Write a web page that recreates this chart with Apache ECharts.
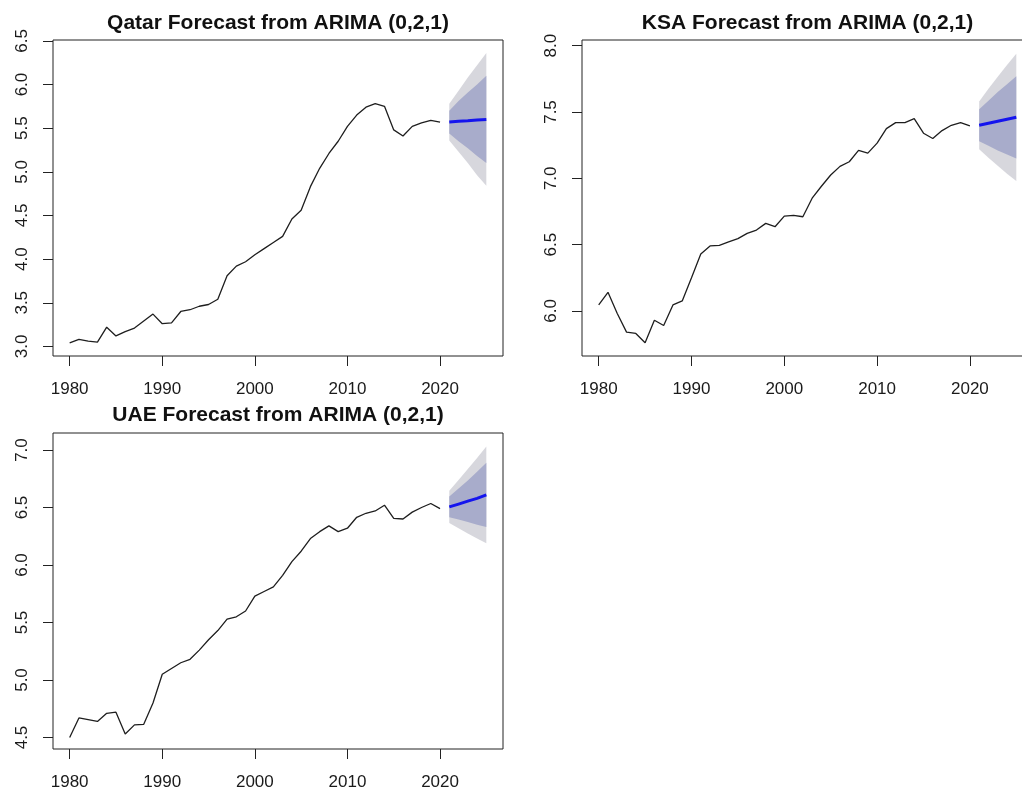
<!DOCTYPE html>
<html><head><meta charset="utf-8">
<script src="https://cdn.jsdelivr.net/npm/echarts@6/dist/echarts.min.js"></script>
<style>html,body{margin:0;padding:0;background:#fff}#c{width:1022px;height:792px}</style>
</head><body><div id="c"></div>
<script>
// ---- data ----
const years = [1980,1981,1982,1983,1984,1985,1986,1987,1988,1989,1990,1991,1992,1993,1994,1995,1996,1997,1998,1999,2000,2001,2002,2003,2004,2005,2006,2007,2008,2009,2010,2011,2012,2013,2014,2015,2016,2017,2018,2019,2020];
const forecastYears = [2021,2022,2023,2024,2025];
const xTickYears = [1980,1990,2000,2010,2020];

const qatarTitle = "Qatar Forecast from ARIMA (0,2,1)";
const qatarValues = [3.04,3.08,3.06,3.05,3.22,3.12,3.17,3.21,3.29,3.37,3.26,3.27,3.40,3.42,3.46,3.48,3.54,3.81,3.92,3.97,4.05,4.12,4.19,4.26,4.46,4.56,4.83,5.04,5.21,5.35,5.52,5.65,5.74,5.78,5.75,5.48,5.41,5.52,5.56,5.59,5.57];
const qatarMean = [5.570,5.578,5.585,5.593,5.600];
const qatarLo80 = [5.44,5.35,5.27,5.18,5.10];
const qatarHi80 = [5.70,5.81,5.91,6.00,6.10];
const qatarLo95 = [5.36,5.23,5.10,4.96,4.84];
const qatarHi95 = [5.78,5.93,6.08,6.22,6.36];
const qatarYTicks = [3.0,3.5,4.0,4.5,5.0,5.5,6.0,6.5];

const ksaTitle = "KSA Forecast from ARIMA (0,2,1)";
const ksaValues = [6.045,6.14,5.98,5.84,5.83,5.76,5.93,5.89,6.045,6.075,6.25,6.43,6.49,6.495,6.52,6.545,6.585,6.61,6.66,6.635,6.715,6.72,6.71,6.85,6.94,7.025,7.09,7.125,7.21,7.19,7.265,7.375,7.42,7.42,7.45,7.34,7.30,7.36,7.40,7.42,7.395];
const ksaMean = [7.400,7.415,7.430,7.445,7.460];
const ksaLo80 = [7.28,7.245,7.21,7.18,7.15];
const ksaHi80 = [7.52,7.585,7.65,7.71,7.77];
const ksaLo95 = [7.22,7.155,7.095,7.035,6.98];
const ksaHi95 = [7.58,7.675,7.765,7.855,7.94];
const ksaYTicks = [6.0,6.5,7.0,7.5,8.0];

const uaeTitle = "UAE Forecast from ARIMA (0,2,1)";
const uaeValues = [4.50,4.67,4.655,4.64,4.71,4.72,4.53,4.61,4.615,4.80,5.05,5.10,5.15,5.18,5.26,5.35,5.43,5.53,5.55,5.60,5.73,5.77,5.81,5.91,6.03,6.12,6.23,6.29,6.34,6.29,6.32,6.415,6.45,6.47,6.52,6.405,6.40,6.46,6.50,6.535,6.49];
const uaeMean = [6.505,6.53,6.555,6.58,6.61];
const uaeLo80 = [6.415,6.395,6.375,6.35,6.33];
const uaeHi80 = [6.595,6.665,6.735,6.81,6.89];
const uaeLo95 = [6.365,6.32,6.275,6.23,6.19];
const uaeHi95 = [6.645,6.74,6.835,6.93,7.03];
const uaeYTicks = [4.5,5.0,5.5,6.0,6.5,7.0];

// ---- layout ----
const panels = [
  {title:qatarTitle, values:qatarValues, mean:qatarMean, lo80:qatarLo80, hi80:qatarHi80, lo95:qatarLo95, hi95:qatarHi95, yTicks:qatarYTicks, yMin:2.89, yMax:6.51, left:53, top:40, width:450, height:316, titleY:23},
  {title:ksaTitle, values:ksaValues, mean:ksaMean, lo80:ksaLo80, hi80:ksaHi80, lo95:ksaLo95, hi95:ksaHi95, yTicks:ksaYTicks, yMin:5.66, yMax:8.043, left:582, top:40, width:451, height:316, titleY:23},
  {title:uaeTitle, values:uaeValues, mean:uaeMean, lo80:uaeLo80, hi80:uaeHi80, lo95:uaeLo95, hi95:uaeHi95, yTicks:uaeYTicks, yMin:4.40, yMax:7.148, left:53, top:433, width:450, height:316, titleY:415}
];
const FONT = '"Liberation Sans", Arial, Helvetica, sans-serif';
const X_MIN = 1978.2, X_MAX = 2026.8;
const COL95 = '#D7D7DD', COL80 = '#A8ACCB', COLFC = '#1414EE', COLLINE = '#1e1e1e';

const grid = [], xAxis = [], yAxis = [], series = [], graphic = [];
function bandSeries(idx, lo, hi, color) {
  return {
    type:'custom', xAxisIndex:idx, yAxisIndex:idx, silent:true, z:1,
    data:[[forecastYears[0], lo[0]]],
    renderItem:function(params, api){
      const pts = [];
      for (let i=0;i<forecastYears.length;i++) pts.push(api.coord([forecastYears[i], hi[i]]));
      for (let i=forecastYears.length-1;i>=0;i--) pts.push(api.coord([forecastYears[i], lo[i]]));
      return {type:'polygon', shape:{points:pts}, style:{fill:color, stroke:null}};
    }
  };
}
panels.forEach((p, i) => {
  grid.push({left:p.left, top:p.top, width:p.width, height:p.height, show:true, borderColor:'#222', borderWidth:1, backgroundColor:'transparent', containLabel:false, outerBoundsMode:'none'});
  xAxis.push({
    type:'value', gridIndex:i, min:X_MIN, max:X_MAX,
    splitLine:{show:false}, axisLine:{show:false},
    axisTick:{show:true, length:10, customValues:xTickYears, lineStyle:{color:'#222', width:1}},
    axisLabel:{show:true, customValues:xTickYears, margin:25, fontSize:17, fontFamily:FONT, color:'#1a1a1a', formatter:v=>String(Math.round(v))}
  });
  yAxis.push({
    type:'value', gridIndex:i, min:p.yMin, max:p.yMax,
    splitLine:{show:false}, axisLine:{show:false},
    axisTick:{show:true, length:10, customValues:p.yTicks, lineStyle:{color:'#222', width:1}},
    axisLabel:{show:true, customValues:p.yTicks, rotate:90, margin:22, fontSize:17, fontFamily:FONT, color:'#1a1a1a', formatter:v=>v.toFixed(1)}
  });
  series.push(bandSeries(i, p.lo95, p.hi95, COL95));
  series.push(bandSeries(i, p.lo80, p.hi80, COL80));
  series.push({type:'line', xAxisIndex:i, yAxisIndex:i, showSymbol:false, silent:true, z:3,
    data:years.map((y,k)=>[y, p.values[k]]), lineStyle:{color:COLLINE, width:1.3}});
  series.push({type:'line', xAxisIndex:i, yAxisIndex:i, showSymbol:false, silent:true, z:4,
    data:forecastYears.map((y,k)=>[y, p.mean[k]]), lineStyle:{color:COLFC, width:3}});
  graphic.push({type:'text', x:p.left + p.width/2, y:p.titleY,
    style:{text:p.title, font:'bold 21px ' + FONT, fill:'#111', textAlign:'center', textVerticalAlign:'middle'}});
});

const chart = echarts.init(document.getElementById('c'), null, {renderer:'canvas'});
chart.setOption({animation:false, backgroundColor:'#fff', grid, xAxis, yAxis, series, graphic});
</script>
</body></html>
